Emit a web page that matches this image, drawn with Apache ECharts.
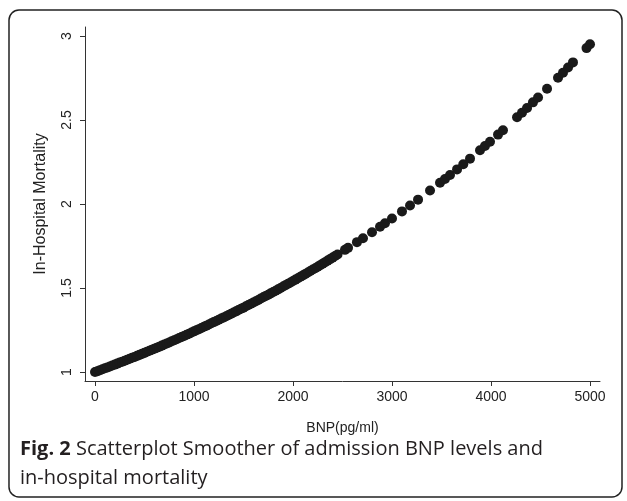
<!DOCTYPE html>
<html>
<head>
	<meta charset="utf-8">
	<title>BNP scatterplot</title>
	<script src="https://cdn.jsdelivr.net/npm/echarts@6/dist/echarts.min.js"></script>
	<style>
		html, body { margin: 0; padding: 0; background: #fff; }
		#chart { width: 627px; height: 501px; }
	</style>
</head>
<body>
<div id="chart"></div>
<script type="text/javascript">
	// values: dense part of the smoother (BNP below ~2450)
	var bnpDense = [0, 25, 50, 75, 100, 125, 150, 175, 200, 225, 250, 275, 300, 325, 350, 375, 400, 425, 450, 475,
		500, 525, 550, 575, 600, 625, 650, 675, 700, 725, 750, 775, 800, 825, 850, 875, 900, 925, 950, 975,
		1000, 1025, 1050, 1075, 1100, 1125, 1150, 1175, 1200, 1225, 1250, 1275, 1300, 1325, 1350, 1375, 1400, 1425, 1450, 1475,
		1500, 1525, 1550, 1575, 1600, 1625, 1650, 1675, 1700, 1725, 1750, 1775, 1800, 1825, 1850, 1875, 1900, 1925, 1950, 1975,
		2000, 2025, 2050, 2075, 2100, 2125, 2150, 2175, 2200, 2225, 2250, 2275, 2300, 2325, 2350, 2375, 2400, 2425, 2450];
	var mortDense = [1.000, 1.005, 1.011, 1.016, 1.022, 1.027, 1.033, 1.039, 1.044, 1.050, 1.056, 1.061, 1.067, 1.073, 1.079, 1.085, 1.090, 1.096, 1.102, 1.108,
		1.114, 1.120, 1.126, 1.133, 1.139, 1.145, 1.151, 1.157, 1.164, 1.170, 1.176, 1.183, 1.189, 1.195, 1.202, 1.208, 1.215, 1.222, 1.228, 1.235,
		1.242, 1.248, 1.255, 1.262, 1.269, 1.276, 1.283, 1.290, 1.297, 1.304, 1.311, 1.318, 1.325, 1.332, 1.339, 1.347, 1.354, 1.361, 1.369, 1.376,
		1.383, 1.391, 1.399, 1.406, 1.414, 1.421, 1.429, 1.437, 1.445, 1.453, 1.460, 1.468, 1.476, 1.484, 1.492, 1.500, 1.509, 1.517, 1.525, 1.533,
		1.542, 1.550, 1.558, 1.567, 1.575, 1.584, 1.592, 1.601, 1.610, 1.618, 1.627, 1.636, 1.645, 1.654, 1.663, 1.672, 1.681, 1.690, 1.699];
	// sparse points of the upper range
	var bnpSparse = [2525, 2556, 2646, 2707, 2798, 2879, 2929, 3000, 3101, 3182, 3263, 3384, 3485, 3535, 3586, 3657, 3720,
		3788, 3889, 3939, 3990, 4071, 4121, 4263, 4313, 4364, 4424, 4475, 4566, 4677, 4727, 4778, 4828, 4965, 5000];
	var mortSparse = [1.727, 1.739, 1.773, 1.796, 1.832, 1.865, 1.885, 1.914, 1.956, 1.991, 2.026, 2.080, 2.126, 2.149, 2.173, 2.206, 2.237,
		2.270, 2.320, 2.345, 2.371, 2.413, 2.439, 2.516, 2.543, 2.571, 2.605, 2.634, 2.686, 2.751, 2.781, 2.812, 2.843, 2.928, 2.951];
	var xTicks = [0, 1000, 2000, 3000, 4000, 5000];
	var yTicks = [1, 1.5, 2, 2.5, 3];

	var points = [];
	for (var i = 0; i < bnpDense.length; i++) {
		points.push([bnpDense[i], mortDense[i]]);
	}
	for (var j = 0; j < bnpSparse.length; j++) {
		points.push([bnpSparse[j], mortSparse[j]]);
	}

	var axisColor = '#333';
	var myChart = echarts.init(document.getElementById('chart'));
	var option = {
		animation: false,
		textStyle: { fontFamily: 'Liberation Sans' },
		grid: { left: 85, right: 27, top: 27, bottom: 120 },
		xAxis: {
			type: 'value',
			min: -101,
			max: 5101,
			name: 'BNP(pg/ml)',
			nameLocation: 'middle',
			nameGap: 40,
			nameTextStyle: { fontSize: 14, color: '#222', fontFamily: 'Liberation Sans' },
			axisLine: { onZero: false, lineStyle: { color: axisColor, width: 1 } },
			axisTick: { show: true, length: 5, customValues: xTicks, lineStyle: { color: axisColor } },
			axisLabel: {
				customValues: xTicks, fontSize: 14, color: '#222', margin: 9,
				formatter: function (v) { return String(v); }
			},
			splitLine: { show: false }
		},
		yAxis: {
			type: 'value',
			min: 0.9464,
			max: 3.0536,
			name: 'In-Hospital Mortality',
			nameLocation: 'middle',
			nameGap: 36,
			nameRotate: 90,
			nameTextStyle: { fontSize: 16, color: '#222', fontFamily: 'Liberation Sans' },
			axisLine: { show: true, onZero: false, lineStyle: { color: axisColor, width: 1 } },
			axisTick: { show: true, length: 5, customValues: yTicks, lineStyle: { color: axisColor } },
			axisLabel: { customValues: yTicks, fontSize: 14, color: '#222', rotate: 90, margin: 11 },
			splitLine: { show: false }
		},
		graphic: [
			{
				type: 'rect',
				shape: { x: 9, y: 10, width: 613, height: 487, r: 10 },
				style: { fill: 'none', stroke: '#222', lineWidth: 1.5 },
				z: -1
			},
			{
				type: 'text',
				left: 20,
				top: 435,
				style: {
					text: '{b|Fig. 2} Scatterplot Smoother of admission BNP levels and\nin-hospital mortality',
					fontFamily: 'Open Sans',
					fontSize: 20,
					lineHeight: 29,
					fill: '#231f20',
					rich: {
						b: { fontFamily: 'Open Sans', fontSize: 20, fontWeight: 'bold', fill: '#231f20', lineHeight: 29 }
					}
				}
			}
		],
		series: [
			{
				type: 'scatter',
				data: points,
				symbol: 'circle',
				symbolSize: 10,
				itemStyle: { color: '#1a1a1a', opacity: 1 }
			}
		]
	};
	myChart.setOption(option);
</script>
</body>
</html>
